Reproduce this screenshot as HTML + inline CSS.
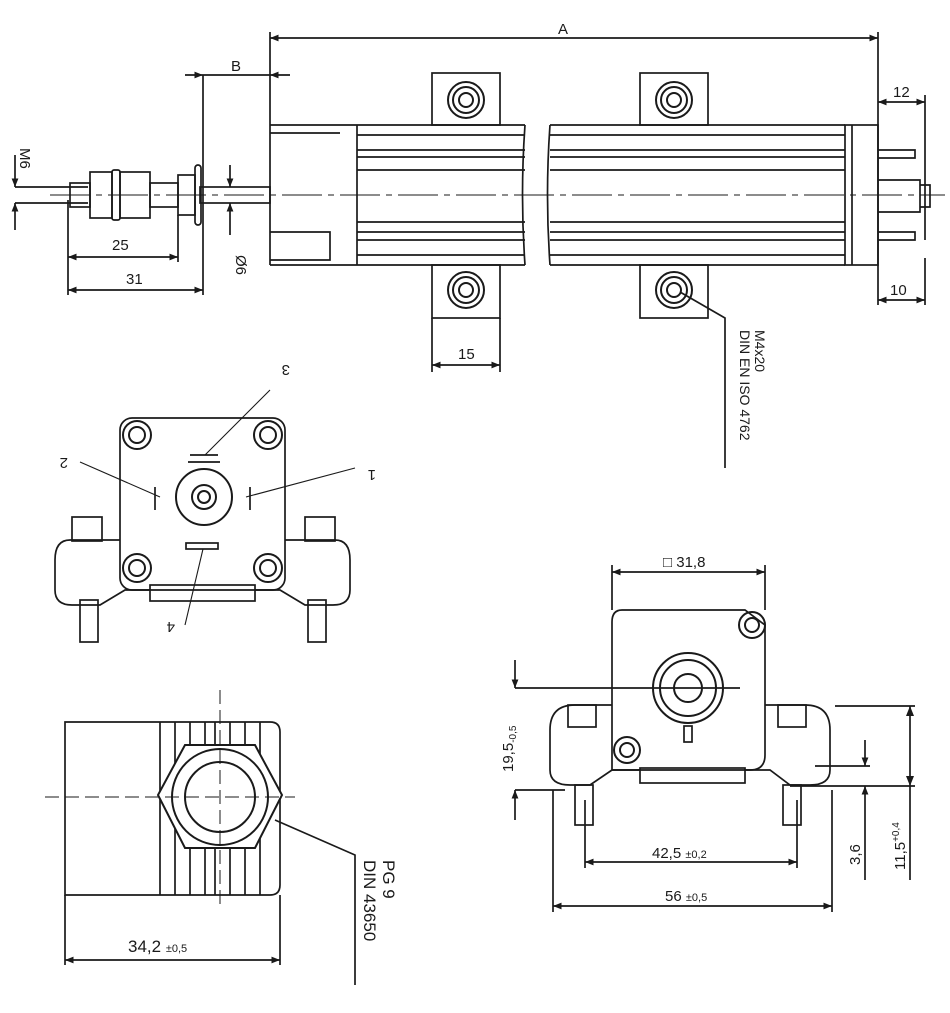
<!DOCTYPE html>
<html><head><meta charset="utf-8"><style>
html,body{margin:0;padding:0;background:#fff}
svg{display:block}
text{font-family:"Liberation Sans",sans-serif;fill:#1a1a1a}
</style></head><body>
<svg width="950" height="1013" viewBox="0 0 950 1013" xmlns="http://www.w3.org/2000/svg">
<defs>
<marker id="a" viewBox="0 0 10 10" refX="10" refY="5" markerWidth="6" markerHeight="5" orient="auto-start-reverse"><path d="M0,1 L10,5 L0,9z" fill="#1a1a1a"/></marker>
</defs>
<g stroke="#1a1a1a" fill="none" stroke-width="1.7">
<!-- ===== TOP VIEW ===== -->
<line x1="270" y1="38" x2="878" y2="38" marker-start="url(#a)" marker-end="url(#a)"/>
<line x1="270" y1="32" x2="270" y2="125"/>
<line x1="878" y1="32" x2="878" y2="305"/>
<line x1="185" y1="75" x2="203" y2="75" marker-end="url(#a)"/>
<line x1="203" y1="75" x2="270" y2="75"/>
<line x1="290" y1="75" x2="270" y2="75" marker-end="url(#a)"/>
<line x1="203" y1="75" x2="203" y2="295"/>
<path d="M270,125 H525 M550,125 H845 M270,265 H525 M550,265 H845 M270,125 V265"/>
<path d="M525,125 Q520,195 525,265 M550,125 Q545,195 550,265"/>
<line x1="357" y1="125" x2="357" y2="265"/>
<path d="M357,135 H525 M357,150 H525 M357,157 H525 M357,170 H525 M357,222 H525 M357,232 H525 M357,240 H525 M357,255 H525"/>
<path d="M550,135 H845 M550,150 H845 M550,157 H845 M550,170 H845 M550,222 H845 M550,232 H845 M550,240 H845 M550,255 H845"/>
<path d="M270,133 H340 M270,232 H330 V260 H270"/>
<rect x="845" y="125" width="33" height="140"/>
<line x1="852" y1="125" x2="852" y2="265"/>
<path d="M878,150 H915 V158 H878 M878,232 H915 V240 H878 M878,180 H920 V212 H878 M920,185 H930 V207 H920"/>
<line x1="50" y1="195" x2="945" y2="195" stroke-dasharray="40,6,6,6" stroke-width="1"/>
<rect x="200" y="187" width="70" height="16"/>
<path d="M15,187 H88 M15,203 H88"/>
<rect x="70" y="183" width="20" height="24"/>
<rect x="90" y="172" width="22" height="46"/>
<rect x="112" y="170" width="8" height="50" rx="2"/>
<rect x="120" y="172" width="30" height="46"/>
<rect x="150" y="183" width="28" height="24"/>
<rect x="178" y="175" width="17" height="40"/>
<rect x="195" y="165" width="6" height="60" rx="3"/>
<line x1="15" y1="155" x2="15" y2="187" marker-end="url(#a)"/>
<line x1="15" y1="230" x2="15" y2="203" marker-end="url(#a)"/>
<line x1="68" y1="200" x2="68" y2="295"/>
<line x1="178" y1="215" x2="178" y2="262"/>
<line x1="68" y1="257" x2="178" y2="257" marker-start="url(#a)" marker-end="url(#a)"/>
<line x1="68" y1="290" x2="203" y2="290" marker-start="url(#a)" marker-end="url(#a)"/>
<line x1="230" y1="165" x2="230" y2="187" marker-end="url(#a)"/>
<line x1="230" y1="235" x2="230" y2="203" marker-end="url(#a)"/>
<rect x="432" y="73" width="68" height="52"/><rect x="640" y="73" width="68" height="52"/>
<rect x="432" y="265" width="68" height="53"/><rect x="640" y="265" width="68" height="53"/>
<g stroke-width="2">
<circle cx="466" cy="100" r="18"/><circle cx="466" cy="100" r="13"/><circle cx="466" cy="100" r="7"/>
<circle cx="674" cy="100" r="18"/><circle cx="674" cy="100" r="13"/><circle cx="674" cy="100" r="7"/>
<circle cx="466" cy="290" r="18"/><circle cx="466" cy="290" r="13"/><circle cx="466" cy="290" r="7"/>
<circle cx="674" cy="290" r="18"/><circle cx="674" cy="290" r="13"/><circle cx="674" cy="290" r="7"/>
</g>
<line x1="432" y1="318" x2="432" y2="372"/><line x1="500" y1="318" x2="500" y2="372"/>
<line x1="432" y1="365" x2="500" y2="365" marker-start="url(#a)" marker-end="url(#a)"/>
<line x1="878" y1="102" x2="925" y2="102" marker-start="url(#a)" marker-end="url(#a)"/>
<line x1="925" y1="95" x2="925" y2="240"/>
<line x1="878" y1="300" x2="925" y2="300" marker-start="url(#a)" marker-end="url(#a)"/>
<line x1="925" y1="258" x2="925" y2="305"/>
<path d="M680,292 L725,318 V468"/>
<!-- ===== END VIEW ===== -->
<rect x="120" y="418" width="165" height="172" rx="12"/>
<g stroke-width="2">
<circle cx="137" cy="435" r="14"/><circle cx="137" cy="435" r="8"/>
<circle cx="268" cy="435" r="14"/><circle cx="268" cy="435" r="8"/>
<circle cx="137" cy="568" r="14"/><circle cx="137" cy="568" r="8"/>
<circle cx="268" cy="568" r="14"/><circle cx="268" cy="568" r="8"/>
<circle cx="204" cy="497" r="28"/><circle cx="204" cy="497" r="12"/><circle cx="204" cy="497" r="6"/>
</g>
<path d="M190,455 H218 M188,462 H220 M155,487 V510 M250,487 V510"/>
<rect x="186" y="543" width="32" height="6"/>
<path d="M55,560 Q55,540 70,540 H120 M55,560 V590 Q55,605 72,605 H100 L125,590 H150 M350,560 Q350,540 335,540 H285 M350,560 V590 Q350,605 333,605 H305 L280,590 H255"/>
<rect x="150" y="585" width="105" height="16"/>
<rect x="72" y="517" width="30" height="24"/><rect x="305" y="517" width="30" height="24"/>
<rect x="80" y="600" width="18" height="42"/><rect x="308" y="600" width="18" height="42"/>
<path d="M205,455 L270,390 M160,497 L80,462 M246,497 L355,468 M203,549 L185,625" stroke-width="1.1"/>
<!-- ===== BOTTOM-LEFT ===== -->
<path d="M65,722 H270 Q280,722 280,732 V885 Q280,895 270,895 H65 Z"/>
<line x1="160" y1="722" x2="160" y2="895"/>
<path d="M175,722 V895 M190,722 V895 M205,722 V895 M215,722 V895 M230,722 V895 M245,722 V895 M260,722 V895"/>
<path d="M185,745 L255,745 L282,795 L255,848 L185,848 L158,795 Z" fill="#fff" stroke-width="2"/>
<circle cx="220" cy="797" r="48" fill="#fff" stroke-width="2"/><circle cx="220" cy="797" r="35" stroke-width="2"/>
<line x1="45" y1="797" x2="295" y2="797" stroke-dasharray="14,6" stroke-width="1"/>
<line x1="220" y1="690" x2="220" y2="905" stroke-dasharray="14,6" stroke-width="1"/>
<path d="M275,820 L355,855 V985"/>
<line x1="65" y1="895" x2="65" y2="965"/><line x1="280" y1="895" x2="280" y2="965"/>
<line x1="65" y1="960" x2="280" y2="960" marker-start="url(#a)" marker-end="url(#a)"/>
<!-- ===== BOTTOM-RIGHT ===== -->
<path d="M622,610 H745 L765,625 V755 Q765,770 750,770 H612 V622 Q612,610 622,610 Z"/>
<g stroke-width="2">
<circle cx="752" cy="625" r="13"/><circle cx="752" cy="625" r="7"/>
<circle cx="627" cy="750" r="13"/><circle cx="627" cy="750" r="7"/>
<circle cx="688" cy="688" r="35"/><circle cx="688" cy="688" r="28"/><circle cx="688" cy="688" r="14"/>
</g>
<rect x="684" y="726" width="8" height="16"/>
<path d="M550,730 Q550,705 575,705 H612 M550,730 V770 Q550,785 570,785 H590 L612,770 H640 M830,730 Q830,705 805,705 H765 M830,730 V770 Q830,785 810,785 H790 L770,770 H745"/>
<rect x="640" y="768" width="105" height="15"/>
<rect x="568" y="705" width="28" height="22"/><rect x="778" y="705" width="28" height="22"/>
<rect x="575" y="785" width="18" height="40"/><rect x="783" y="785" width="18" height="40"/>
<line x1="612" y1="565" x2="612" y2="610"/><line x1="765" y1="565" x2="765" y2="610"/>
<line x1="612" y1="572" x2="765" y2="572" marker-start="url(#a)" marker-end="url(#a)"/>
<line x1="515" y1="688" x2="740" y2="688"/>
<line x1="515" y1="790" x2="565" y2="790"/>
<line x1="515" y1="660" x2="515" y2="688" marker-end="url(#a)"/>
<line x1="515" y1="820" x2="515" y2="790" marker-end="url(#a)"/>
<line x1="585" y1="800" x2="585" y2="868"/><line x1="797" y1="800" x2="797" y2="868"/>
<line x1="585" y1="862" x2="797" y2="862" marker-start="url(#a)" marker-end="url(#a)"/>
<line x1="553" y1="790" x2="553" y2="912"/><line x1="832" y1="790" x2="832" y2="912"/>
<line x1="553" y1="906" x2="832" y2="906" marker-start="url(#a)" marker-end="url(#a)"/>
<line x1="815" y1="766" x2="870" y2="766"/><line x1="835" y1="706" x2="915" y2="706"/>
<line x1="790" y1="786" x2="915" y2="786"/>
<line x1="865" y1="740" x2="865" y2="766" marker-end="url(#a)"/>
<line x1="865" y1="810" x2="865" y2="786" marker-end="url(#a)"/>
<line x1="865" y1="810" x2="865" y2="880"/>
<line x1="910" y1="706" x2="910" y2="880"/>
</g>
<g fill="#1a1a1a"><path d="M906,716 L910,706 L914,716Z M906,776 L910,786 L914,776Z"/></g>
<g font-size="15">
<text x="558" y="34">A</text>
<text x="231" y="71">B</text>
<text x="112" y="250">25</text>
<text x="126" y="284">31</text>
<text x="458" y="359">15</text>
<text x="893" y="97">12</text>
<text x="890" y="295">10</text>
<text transform="translate(20,148) rotate(90)">M6</text>
<text transform="translate(236,255) rotate(90)">Ø6</text>
<text transform="translate(755,330) rotate(90)" font-size="14">M4x20</text>
<text transform="translate(740,330) rotate(90)" font-size="14">DIN EN ISO 4762</text>
<text transform="translate(290,365) rotate(180)">3</text>
<text transform="translate(68,458) rotate(180)">2</text>
<text transform="translate(376,470) rotate(180)">1</text>
<text transform="translate(175,622) rotate(180)">4</text>
<text transform="translate(383,860) rotate(90)" font-size="17">PG 9</text>
<text transform="translate(364,860) rotate(90)" font-size="17">DIN 43650</text>
<text x="128" y="952" font-size="17">34,2 <tspan font-size="11">±0,5</tspan></text>
<text x="663" y="567">□ 31,8</text>
<text transform="translate(513,772) rotate(-90)">19,5<tspan font-size="10" dy="3">-0,5</tspan></text>
<text x="652" y="858">42,5 <tspan font-size="11">±0,2</tspan></text>
<text x="665" y="901">56 <tspan font-size="11">±0,5</tspan></text>
<text transform="translate(860,865) rotate(-90)">3,6</text>
<text transform="translate(905,870) rotate(-90)">11,5<tspan font-size="10" dy="-6">+0,4</tspan></text>
</g>
</svg>
</body></html>
